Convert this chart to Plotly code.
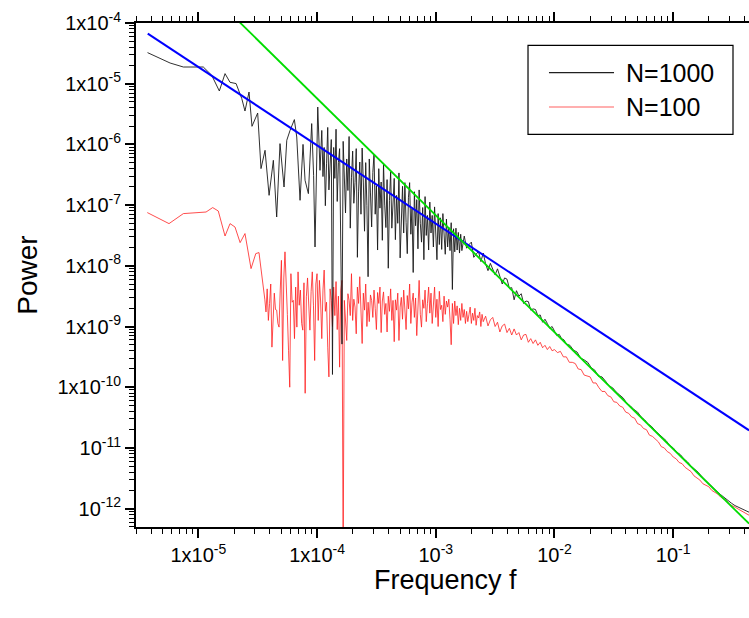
import numpy as np
import plotly.graph_objects as go

# ---------------- data (log10 values) ----------------
black_log10_f = [
    -5.428, -5.238, -5.126, -4.958, -4.887, -4.823, -4.775, -4.733, -4.682, -4.634,
    -4.607, -4.573, -4.548, -4.500, -4.472, -4.438, -4.404, -4.368, -4.340, -4.312,
    -4.278, -4.255, -4.227, -4.191, -4.171, -4.143, -4.118, -4.101, -4.073, -4.045,
    -4.029, -4.017, -3.994, -3.975,
    -3.96, -3.95, -3.94, -3.93, -3.92, -3.91, -3.90, -3.89, -3.88, -3.87,
    -3.86, -3.85, -3.84, -3.83, -3.82, -3.81, -3.80, -3.79, -3.78, -3.77,
    -3.76, -3.75, -3.74, -3.73, -3.72, -3.71, -3.70, -3.69, -3.68, -3.67,
    -3.66, -3.65, -3.64, -3.63, -3.62, -3.61, -3.60, -3.59, -3.58, -3.57,
    -3.56, -3.55, -3.54, -3.53, -3.52, -3.51, -3.50, -3.49, -3.48, -3.47,
    -3.46, -3.45, -3.44, -3.43, -3.42, -3.41, -3.40, -3.39, -3.38, -3.37,
    -3.36, -3.35, -3.34, -3.33, -3.32, -3.31, -3.30, -3.29, -3.28, -3.27,
    -3.26, -3.25, -3.24, -3.23, -3.22, -3.21, -3.20, -3.19, -3.18, -3.17,
    -3.16, -3.15, -3.14, -3.13, -3.12, -3.11, -3.10, -3.09, -3.08, -3.07,
    -3.06, -3.05, -3.04, -3.03, -3.02, -3.01, -3.00, -2.99, -2.98, -2.97,
    -2.96, -2.95, -2.94, -2.93, -2.92, -2.91, -2.90, -2.89, -2.88, -2.87,
    -2.86, -2.85, -2.84, -2.83, -2.82, -2.81, -2.80, -2.79, -2.78,
    -2.76, -2.74, -2.72, -2.70, -2.68, -2.66, -2.64, -2.62, -2.60, -2.58,
    -2.56, -2.54, -2.52, -2.50, -2.48, -2.46, -2.44, -2.42, -2.40, -2.38,
    -2.36, -2.34, -2.32, -2.30, -2.28, -2.26, -2.24, -2.22, -2.20, -2.18,
    -2.16, -2.14, -2.12, -2.10, -2.08, -2.06, -2.04, -2.02, -2.00, -1.98,
    -1.96, -1.94, -1.92, -1.90,
    -1.87, -1.84, -1.81, -1.78, -1.75, -1.72, -1.69, -1.66, -1.63, -1.60,
    -1.57, -1.54, -1.51, -1.48, -1.45, -1.42, -1.39, -1.36, -1.33, -1.30,
    -1.27, -1.24, -1.21, -1.18, -1.15, -1.12, -1.09, -1.06, -1.03, -1.00,
    -0.97, -0.94, -0.91, -0.88, -0.85, -0.82, -0.79, -0.76, -0.73, -0.70,
    -0.67, -0.64,
    -0.60, -0.57, -0.54, -0.51, -0.48, -0.45, -0.42, -0.39, -0.36,
]
black_log10_p = [
    -4.488, -4.659, -4.725, -4.725, -4.862, -5.120, -4.834, -4.977, -4.998, -5.245,
    -5.450, -5.137, -5.702, -5.483, -6.399, -6.097, -6.839, -6.262, -7.196, -5.987,
    -6.702, -5.932, -5.768, -5.591, -5.878, -6.921, -6.000, -6.591, -6.811, -5.657,
    -6.509, -7.690, -5.384, -6.427,
    -5.77, -6.53, -6.05, -7.01, -6.32, -5.72, -6.75, -6.26, -5.92, -9.79,
    -6.05, -6.56, -5.75, -6.94, -6.30, -6.07, -7.58, -9.29, -5.95, -6.57,
    -7.13, -6.24, -6.76, -5.87, -7.38, -6.55, -6.11, -6.97, -6.63, -6.07,
    -7.86, -6.77, -6.29, -7.15, -6.06, -6.62, -7.43, -6.30, -7.01, -8.18,
    -6.24, -6.80, -7.36, -6.46, -6.16, -7.15, -6.68, -7.74, -6.40, -7.05,
    -6.62, -7.58, -6.32, -7.00, -7.37, -6.58, -8.04, -6.92, -6.45, -7.38,
    -7.00, -6.56, -7.57, -6.84, -7.30, -6.47, -7.87, -7.13, -6.69, -7.46,
    -6.63, -7.29, -7.80, -6.87, -6.63, -7.48, -7.06, -8.11, -6.78, -7.34,
    -6.91, -7.72, -6.75, -7.30, -7.61, -7.04, -7.90, -6.86, -7.50, -7.17,
    -7.74, -6.95, -7.46, -7.17, -7.69, -7.03, -7.44, -7.90, -7.14, -7.65,
    -7.21, -7.73, -7.14, -7.50, -7.81, -7.23, -7.69, -7.37, -7.75, -7.29,
    -8.39, -7.39, -7.77, -7.38, -7.74, -7.45, -7.79, -7.48, -7.75,
    -7.51, -7.71, -7.65, -7.61, -7.86, -7.80, -7.76, -7.93, -7.79, -7.97,
    -8.08, -7.96, -8.05, -8.15, -8.05, -8.18, -8.30, -8.20, -8.22, -8.37,
    -8.36, -8.56, -8.41, -8.50, -8.46, -8.62, -8.58, -8.59, -8.73, -8.71,
    -8.72, -8.82, -8.81, -8.93, -8.88, -8.95, -9.03, -9.00, -9.07, -9.15,
    -9.13, -9.20, -9.22, -9.29,
    -9.31, -9.39, -9.42, -9.52, -9.55, -9.59, -9.68, -9.72, -9.82, -9.83,
    -9.90, -9.98, -10.01, -10.08, -10.13, -10.18, -10.27, -10.31, -10.37, -10.41,
    -10.49, -10.54, -10.61, -10.65, -10.72, -10.77, -10.83, -10.88, -10.96, -11.00,
    -11.07, -11.11, -11.18, -11.23, -11.30, -11.35, -11.40, -11.47, -11.53, -11.58,
    -11.64, -11.70,
    -11.77, -11.82, -11.87, -11.91, -11.95, -11.98, -12.01, -12.04, -12.06,
]

red_log10_f = [
    -5.430, -5.247, -5.126, -4.935, -4.879, -4.832, -4.775, -4.733, -4.691, -4.648,
    -4.607, -4.556, -4.516, -4.489,
    -4.44, -4.43, -4.42, -4.41, -4.40, -4.39, -4.38, -4.37, -4.36, -4.35,
    -4.34, -4.33, -4.32, -4.31, -4.30, -4.29, -4.28, -4.27, -4.26, -4.25,
    -4.24, -4.23, -4.22, -4.21, -4.20, -4.19, -4.18, -4.17, -4.16, -4.15,
    -4.14, -4.13, -4.12, -4.11, -4.10, -4.09, -4.08, -4.07, -4.06, -4.05,
    -4.04, -4.03, -4.02, -4.01, -4.00, -3.99, -3.98, -3.97, -3.96, -3.95,
    -3.94, -3.93, -3.92, -3.91, -3.90, -3.89, -3.88, -3.87, -3.86, -3.85,
    -3.84, -3.83, -3.82, -3.81, -3.80, -3.79, -3.78, -3.77, -3.76, -3.75,
    -3.74, -3.73, -3.72, -3.71, -3.70, -3.69, -3.68, -3.67, -3.66, -3.65,
    -3.64, -3.63, -3.62, -3.61, -3.60, -3.59, -3.58, -3.57, -3.56, -3.55,
    -3.54, -3.53, -3.52, -3.51, -3.50, -3.49, -3.48, -3.47, -3.46, -3.45,
    -3.44, -3.43, -3.42, -3.41, -3.40, -3.39, -3.38, -3.37, -3.36, -3.35,
    -3.34, -3.33, -3.32, -3.31, -3.30, -3.29, -3.28, -3.27, -3.26, -3.25,
    -3.24, -3.23, -3.22, -3.21, -3.20, -3.19, -3.18, -3.17, -3.16, -3.15,
    -3.14, -3.13, -3.12, -3.11, -3.10, -3.09, -3.08, -3.07, -3.06, -3.05,
    -3.04, -3.03, -3.02, -3.01, -3.00, -2.99, -2.98, -2.97, -2.96, -2.95,
    -2.94, -2.93, -2.92, -2.91, -2.90, -2.89, -2.88, -2.87, -2.86, -2.85,
    -2.84, -2.83, -2.82, -2.81, -2.80, -2.79, -2.78, -2.77, -2.76, -2.75,
    -2.74, -2.73, -2.72, -2.71, -2.70, -2.69, -2.68, -2.67, -2.66, -2.65,
    -2.64, -2.63, -2.62, -2.61, -2.60,
    -2.58, -2.56, -2.54, -2.52, -2.50, -2.48, -2.46, -2.44, -2.42, -2.40,
    -2.38, -2.36, -2.34, -2.32, -2.30, -2.28, -2.26, -2.24, -2.22, -2.20,
    -2.18, -2.16, -2.14, -2.12, -2.10, -2.08, -2.06, -2.04, -2.02, -2.00,
    -1.975, -1.950, -1.925, -1.900, -1.875, -1.850, -1.825, -1.800, -1.775, -1.750,
    -1.725, -1.700, -1.675, -1.650, -1.625, -1.600, -1.575, -1.550, -1.525, -1.500,
    -1.475, -1.450, -1.425, -1.400, -1.375, -1.350, -1.325, -1.300, -1.275, -1.250,
    -1.225, -1.200, -1.175, -1.150, -1.125, -1.100, -1.075, -1.050, -1.025, -1.000,
    -0.975, -0.950, -0.925, -0.900, -0.875, -0.850, -0.825, -0.800, -0.775, -0.750,
    -0.725, -0.700, -0.675, -0.650, -0.625, -0.600, -0.575, -0.550, -0.525, -0.500,
    -0.475, -0.450, -0.425, -0.400, -0.375, -0.360,
]
red_log10_p = [
    -7.123, -7.305, -7.140, -7.114, -7.041, -7.097, -7.509, -7.305, -7.361, -7.618,
    -7.469, -8.046, -7.799, -7.782,
    -8.55, -8.76, -8.38, -8.90, -8.62, -8.30, -9.34, -8.85, -8.45, -8.72,
    -8.73, -8.95, -9.01, -8.40, -7.91, -9.56, -8.20, -7.77, -8.51, -8.80,
    -9.40, -10.00, -8.13, -8.60, -8.57, -9.20, -8.35, -9.01, -8.10, -8.65,
    -8.40, -8.95, -9.06, -8.28, -10.10, -8.51, -8.20, -8.78, -9.06, -8.42,
    -8.10, -8.66, -9.56, -8.30, -8.13, -8.90, -8.24, -8.58, -9.20, -8.40,
    -8.07, -8.75, -8.60, -9.34, -9.83, -8.38, -8.57, -9.00, -8.35, -8.82,
    -8.26, -9.05, -8.50, -9.67, -8.40, -8.24, -12.8, -8.57, -8.95, -9.23,
    -8.46, -8.57, -8.82, -8.13, -8.90, -8.55, -8.68, -9.12, -8.35, -8.62,
    -8.18, -8.85, -9.28, -8.45, -8.73, -8.30, -9.00, -8.60, -8.92, -8.48,
    -8.57, -8.85, -8.40, -8.70, -9.05, -8.44, -8.62, -8.35, -9.10, -8.58,
    -8.43, -8.80, -8.62, -9.09, -8.50, -8.75, -8.38, -8.90, -8.57, -9.25,
    -8.56, -8.73, -8.45, -9.23, -8.68, -8.52, -8.88, -8.40, -8.67, -9.05,
    -8.49, -8.71, -8.30, -8.95, -8.60, -8.45, -8.85, -8.53, -9.15, -8.55,
    -8.24, -8.80, -9.01, -8.56, -8.70, -8.40, -8.92, -8.62, -8.35, -8.78,
    -8.45, -8.95, -8.60, -8.35, -8.85, -8.55, -9.00, -8.42, -8.72, -8.65,
    -8.92, -8.50, -8.80, -8.58, -8.68, -8.55, -8.88, -9.30, -8.62, -8.95,
    -8.58, -8.82, -8.66, -8.97, -8.70, -8.90, -8.62, -8.85, -8.72, -8.95,
    -8.75, -8.92, -8.80, -8.68, -8.95, -8.78, -8.90, -8.70, -8.98, -8.82,
    -8.86, -8.76, -9.00, -8.80, -8.92,
    -8.83, -8.99, -8.89, -8.85, -9.00, -8.93, -9.09, -8.99, -8.96, -9.10,
    -9.03, -9.14, -9.04, -9.14, -9.10, -9.22, -9.14, -9.13, -9.26, -9.20,
    -9.28, -9.22, -9.31, -9.26, -9.35, -9.31, -9.38, -9.33, -9.40, -9.38,
    -9.43, -9.41, -9.50, -9.50, -9.59, -9.59, -9.61, -9.70, -9.71, -9.80,
    -9.81, -9.83, -9.93, -9.93, -10.01, -10.07, -10.07, -10.14, -10.16, -10.24,
    -10.25, -10.31, -10.33, -10.41, -10.43, -10.49, -10.51, -10.60, -10.62, -10.68,
    -10.70, -10.79, -10.81, -10.86, -10.90, -10.98, -11.00, -11.06, -11.09, -11.15,
    -11.18, -11.24, -11.26, -11.32, -11.36, -11.39, -11.46, -11.49, -11.53, -11.59,
    -11.62, -11.64, -11.70, -11.73, -11.76, -11.81, -11.84, -11.87, -11.93, -11.95,
    -11.98, -12.01, -12.04, -12.06, -12.09, -12.11,
]

# power-law fit lines (end points, log10)
blue_fit_log10_f = [-5.426, -0.361]
blue_fit_log10_p = [-4.175, -10.71]
green_fit_log10_f = [-4.70, -0.361]
green_fit_log10_p = [-3.895, -12.248]

legend_labels = ["N=1000", "N=100"]

x_tick_vals = [1e-5, 1e-4, 1e-3, 1e-2, 1e-1]
x_tick_text = ["1x10<sup>-5</sup>", "1x10<sup>-4</sup>", "10<sup>-3</sup>",
               "10<sup>-2</sup>", "10<sup>-1</sup>"]
y_tick_vals = [1e-4, 1e-5, 1e-6, 1e-7, 1e-8, 1e-9, 1e-10, 1e-11, 1e-12]
y_tick_text = ["1x10<sup>-4</sup>", "1x10<sup>-5</sup>", "1x10<sup>-6</sup>",
               "1x10<sup>-7</sup>", "1x10<sup>-8</sup>", "1x10<sup>-9</sup>",
               "1x10<sup>-10</sup>", "10<sup>-11</sup>", "10<sup>-12</sup>"]

# ---------------- figure ----------------
FONT = "Liberation Sans, Arial, sans-serif"
p10 = lambda a: np.power(10.0, np.array(a))

W, H = 749, 618
M = dict(l=136, r=0, t=23, b=91)
PLOT_H = H - M["t"] - M["b"]
PLOT_W = W - M["l"] - M["r"]
XR = [-5.525, -0.3614]
YR = [-12.303, -4.0]

fig = go.Figure()
fig.add_trace(go.Scatter(x=p10(red_log10_f), y=p10(red_log10_p), mode="lines",
                         line=dict(color="#ff2020", width=0.8), name=legend_labels[1]))
fig.add_trace(go.Scatter(x=p10(black_log10_f), y=p10(black_log10_p), mode="lines",
                         line=dict(color="#181818", width=0.9), name=legend_labels[0]))
fig.add_trace(go.Scatter(x=p10(blue_fit_log10_f), y=p10(blue_fit_log10_p), mode="lines",
                         line=dict(color="#0000ff", width=2), showlegend=False))
fig.add_trace(go.Scatter(x=p10(green_fit_log10_f), y=p10(green_fit_log10_p), mode="lines",
                         line=dict(color="#00dd00", width=1.8), showlegend=False))

minor_vals = [m * 10.0 ** e for e in range(-13, 1) for m in range(2, 10)]

# short minor ticks on the top frame (mirror of the bottom minor ticks),
# drawn as unclipped vertical-line markers just above the plot's top edge
top_minor = [v for v in minor_vals if XR[0] < np.log10(v) < XR[1]]
y_above = 10 ** (YR[1] + (3.0 / PLOT_H) * (YR[1] - YR[0]))
fig.add_trace(go.Scatter(x=top_minor, y=[y_above] * len(top_minor), mode="markers",
                         marker=dict(symbol="line-ns", size=6,
                                     line=dict(color="black", width=1)),
                         cliponaxis=False, hoverinfo="skip", showlegend=False))

tick_style = dict(ticks="outside", ticklen=9, tickwidth=1.5, tickcolor="black",
                  tickmode="array",
                  minor=dict(ticks="outside", ticklen=5, tickwidth=1, tickcolor="black",
                             tickmode="array", tickvals=minor_vals, showgrid=False))
tfont = dict(family=FONT, size=20, color="black")

fig.update_layout(
    xaxis=dict(type="log", range=XR, showgrid=False, zeroline=False, showline=True,
               linewidth=2, linecolor="black", mirror="ticks",
               tickvals=x_tick_vals, ticktext=x_tick_text, tickfont=tfont,
               **tick_style),
    yaxis=dict(type="log", range=YR, showgrid=False, zeroline=False,
               showline=True, linewidth=2, linecolor="black", mirror=False,
               tickvals=y_tick_vals, ticktext=y_tick_text, tickfont=tfont,
               title=dict(text="Power", font=dict(family=FONT, size=28, color="black"),
                          standoff=12),
               **tick_style),
)

# x-axis title placed just below the tick labels
fig.add_annotation(xref="paper", yref="paper", x=(445 - M["l"]) / PLOT_W,
                   y=-(580 - (H - M["b"])) / PLOT_H, text="Frequency f",
                   showarrow=False, xanchor="center", yanchor="middle",
                   font=dict(family=FONT, size=27, color="black"))

# legend box drawn in paper coordinates
fig.add_shape(type="rect", xref="paper", yref="paper", x0=0.6395, x1=0.9739,
              y0=0.7792, y1=0.9558, line=dict(color="black", width=1.2),
              fillcolor="white", layer="above")
leg_y = [0.9016, 0.8333]
leg_col = ["#202020", "#ff6060"]
for lbl, yy, col in zip(legend_labels, leg_y, leg_col):
    fig.add_shape(type="line", xref="paper", yref="paper", x0=0.6737, x1=0.7798,
                  y0=yy, y1=yy, line=dict(color=col, width=1.2), layer="above")
    fig.add_annotation(xref="paper", yref="paper", x=0.796, y=yy, text=lbl,
                       showarrow=False, xanchor="left", yanchor="middle",
                       font=dict(family=FONT, size=25, color="black"))

fig.update_layout(
    width=W, height=H,
    margin=M,
    paper_bgcolor="white", plot_bgcolor="white",
    showlegend=False,
    font=dict(family=FONT, color="black"),
)

fig.write_html("out.html")
